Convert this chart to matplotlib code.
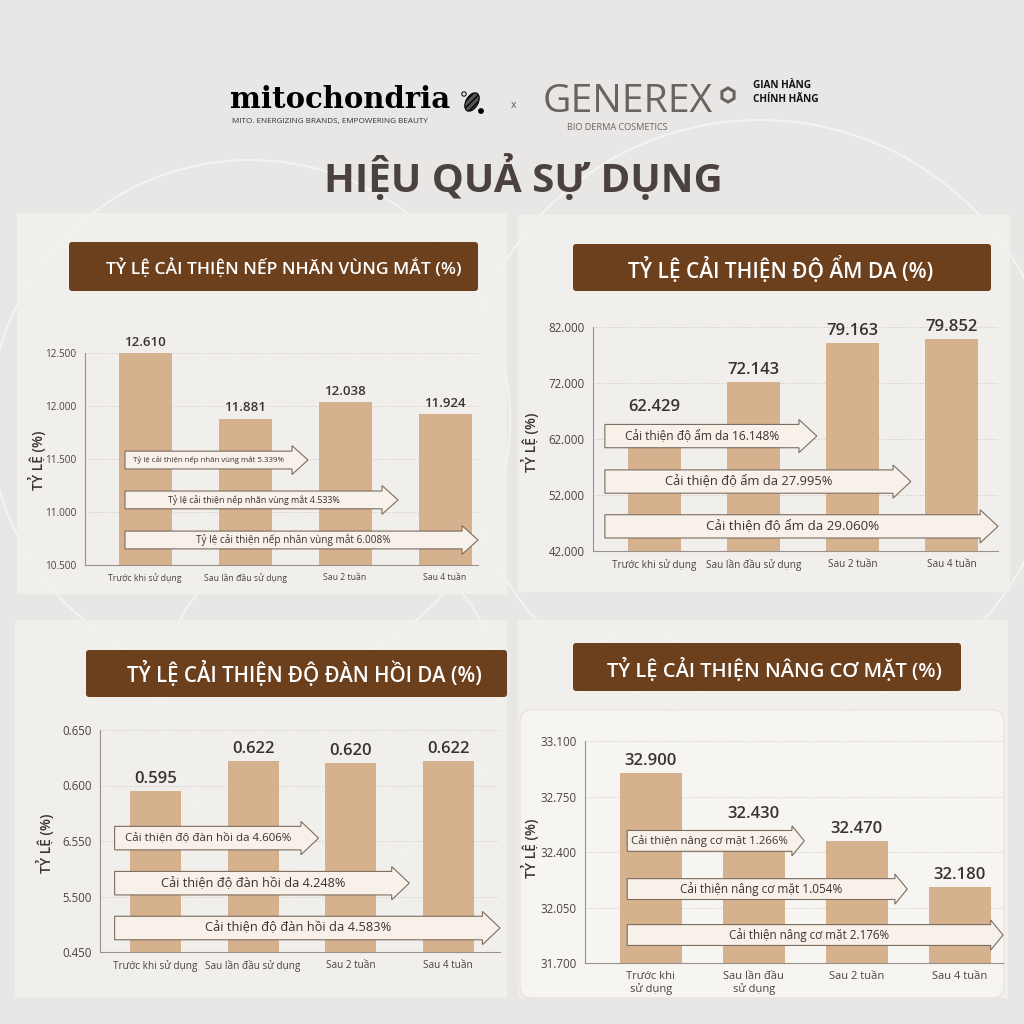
import matplotlib
matplotlib.use("Agg")
import matplotlib.pyplot as plt
import matplotlib.transforms as mtransforms
from matplotlib.patches import FancyBboxPatch, Polygon, Ellipse, Circle, RegularPolygon, Rectangle

plt.rcParams['font.family'] = ['Open Sans', 'DejaVu Sans']

# ---- data ----
categories = ["Trước khi sử dụng", "Sau lần đầu sử dụng", "Sau 2 tuần", "Sau 4 tuần"]
categories_wrapped = ["Trước khi\nsử dụng", "Sau lần đầu\nsử dụng", "Sau 2 tuần", "Sau 4 tuần"]

titles = ["TỶ LỆ CẢI THIỆN NẾP NHĂN VÙNG MẮT (%)",
          "TỶ LỆ CẢI THIỆN ĐỘ ẨM DA (%)",
          "TỶ LỆ CẢI THIỆN ĐỘ ĐÀN HỒI DA (%)",
          "TỶ LỆ CẢI THIỆN NÂNG CƠ MẶT (%)"]

wrinkle = [12.610, 11.881, 12.038, 11.924]
moisture = [62.429, 72.143, 79.163, 79.852]
elastic = [0.595, 0.622, 0.620, 0.622]
lifting = [32.900, 32.430, 32.470, 32.180]

wrinkle_ticks = [10.5, 11.0, 11.5, 12.0, 12.5]
moisture_ticks = [42, 52, 62, 72, 82]
elastic_ticks = [0.45, 0.50, 0.55, 0.60, 0.65]
lifting_ticks = [31.70, 32.05, 32.40, 32.75, 33.10]

wrinkle_ticklabels = ["10.500", "11.000", "11.500", "12.000", "12.500"]
moisture_ticklabels = ["42.000", "52.000", "62.000", "72.000", "82.000"]
elastic_ticklabels = ["0.450", "5.500", "6.550", "0.600", "0.650"]
lifting_ticklabels = ["31.700", "32.050", "32.400", "32.750", "33.100"]

wrinkle_arrows = ["Tỷ lệ cải thiện nếp nhăn vùng mắt 5.339%",
                  "Tỷ lệ cải thiện nếp nhăn vùng mắt 4.533%",
                  "Tỷ lệ cải thiện nếp nhăn vùng mắt 6.008%"]
moisture_arrows = ["Cải thiện độ ẩm da 16.148%",
                   "Cải thiện độ ẩm da 27.995%",
                   "Cải thiện độ ẩm da 29.060%"]
elastic_arrows = ["Cải thiện độ đàn hồi da 4.606%",
                  "Cải thiện độ đàn hồi da 4.248%",
                  "Cải thiện độ đàn hồi da 4.583%"]
lifting_arrows = ["Cải thiện nâng cơ mặt 1.266%",
                  "Cải thiện nâng cơ mặt 1.054%",
                  "Cải thiện nâng cơ mặt 2.176%"]

# ---- colours ----
BG = "#e8e7e5"
PANEL = "#f3f1ee"
BROWN = "#6c3f1d"
BAR = "#d5b18d"
ARROW_FILL = "#f7f1e9"
ARROW_EDGE = "#7d6d5f"
DARK = "#3b3331"
TICK = "#4a4442"

W = 1024
fig = plt.figure(figsize=(10.24, 10.24), dpi=100, facecolor=BG)


def rect(x0, y0, x1, y1):
    return [x0 / W, 1 - y1 / W, (x1 - x0) / W, (y1 - y0) / W]


def fx(x):
    return x / W


def fy(y):
    return 1 - y / W


renderer = fig.canvas.get_renderer()


def fit(t, width_px):
    w = t.get_window_extent(renderer).width
    t.set_fontsize(t.get_fontsize() * width_px / w)


# background layer: one axes over the whole figure, below the charts
bg = fig.add_axes([0, 0, 1, 1], zorder=-1)
bg.set_xlim(0, W)
bg.set_ylim(W, 0)
bg.axis("off")

for cx, cy, r in [(250, 420, 260), (760, 420, 300), (330, 700, 170), (640, 690, 60)]:
    bg.add_patch(Circle((cx, cy), r, fill=False, ec="white", lw=1.5, alpha=0.5, zorder=0))

for x0, y0, x1, y1 in [(17, 213, 507, 594), (518, 215, 1010, 592), (15, 620, 507, 998), (518, 620, 1008, 998)]:
    bg.add_patch(Rectangle((x0, y0), x1 - x0, y1 - y0, fc=PANEL, ec="none", alpha=0.85, zorder=1))
bg.add_patch(FancyBboxPatch((520, 710), 484, 288, boxstyle="round,pad=0,rounding_size=12",
                            fc="#f7f5f2", ec="#e6e1db", lw=0.8, zorder=2))

# ---- header ----
t = fig.text(fx(230), fy(99), "mitochondria", family="DejaVu Serif", weight="bold",
             fontsize=17, color="black", va="center", ha="left")
fit(t, 220)
t = fig.text(fx(330), fy(121), "MITO. ENERGIZING BRANDS, EMPOWERING BEAUTY", fontsize=3.6,
             color="#333", ha="center", va="center")
fit(t, 195)
bg.add_patch(Ellipse((472, 102), 12, 20, angle=30, fc="#555", ec="black", hatch="/////", lw=0.8, zorder=3))
bg.add_patch(Circle((464, 94), 2.2, fc="none", ec="black", lw=0.7, zorder=3))
bg.add_patch(Circle((481, 111), 2.2, fc="black", ec="black", zorder=3))
fig.text(fx(513), fy(106), "x", fontsize=7.5, color="#555", ha="center", va="center")
t = fig.text(fx(543), fy(102), "GENEREX", fontsize=26, color="#6b6361", ha="left", va="center")
fit(t, 170)
bg.add_patch(RegularPolygon((728, 95), 6, radius=7, fill=False, ec="#6b6361", lw=2.2, zorder=3))
fig.text(fx(617), fy(128), "BIO DERMA COSMETICS", fontsize=6.6, color="#6b6361", ha="center", va="center")
fig.text(fx(753), fy(86), "GIAN HÀNG", fontsize=7.2, weight="bold", color="#111", ha="left", va="center")
fig.text(fx(753), fy(100), "CHÍNH HÃNG", fontsize=7.2, weight="bold", color="#111", ha="left", va="center")

t = fig.text(fx(523), fy(177), "HIỆU QUẢ SỰ DỤNG", fontsize=27, weight="bold",
             color="#4b413e", ha="center", va="center")
fit(t, 398)

# ---- panels ----
panels = [
    dict(values=wrinkle, ticks=wrinkle_ticks, ticklabels=wrinkle_ticklabels, arrows=wrinkle_arrows,
         title=titles[0], cats=categories,
         ax=(85, 353, 478, 565), xlim=(-0.6, 3.33), width=0.53,
         bar_box=(69, 242, 478, 291), title_w=358, title_c=(284, 268),
         x0=-0.2, tips=[1.63, 2.53, 3.33], yc=[0.495, 0.307, 0.118], bh=0.042, hh=0.068, hl=0.16,
         arrow_w=[153, 173, 193], val_fs=9.5, tick_fs=7.2, cat_fs=6.3, ylab=(37, 460), ylab_fs=10),
    dict(values=moisture, ticks=moisture_ticks, ticklabels=moisture_ticklabels, arrows=moisture_arrows,
         title=titles[1], cats=categories,
         ax=(593, 327, 998, 551), xlim=(-0.62, 3.47), width=0.53,
         bar_box=(573, 244, 991, 291), title_w=307, title_c=(781, 269),
         x0=-0.5, tips=[1.64, 2.59, 3.47], yc=[0.513, 0.31, 0.11], bh=0.052, hh=0.074, hl=0.18,
         arrow_w=[155, 167, 173], val_fs=12, tick_fs=8.3, cat_fs=7.2, ylab=(530, 442), ylab_fs=10),
    dict(values=elastic, ticks=elastic_ticks, ticklabels=elastic_ticklabels, arrows=elastic_arrows,
         title=titles[2], cats=categories,
         ax=(100, 730, 500, 952), xlim=(-0.57, 3.53), width=0.52,
         bar_box=(86, 650, 507, 697), title_w=357, title_c=(304, 674),
         x0=-0.42, tips=[1.67, 2.6, 3.53], yc=[0.513, 0.31, 0.108], bh=0.053, hh=0.075, hl=0.18,
         arrow_w=[166, 184, 187], val_fs=12, tick_fs=8.3, cat_fs=7.2, ylab=(45, 843), ylab_fs=10),
    dict(values=lifting, ticks=lifting_ticks, ticklabels=lifting_ticklabels, arrows=lifting_arrows,
         title=titles[3], cats=categories_wrapped,
         ax=(585, 741, 1003, 963), xlim=(-0.64, 3.42), width=0.6,
         bar_box=(573, 643, 961, 691), title_w=337, title_c=(774, 670),
         x0=-0.23, tips=[1.49, 2.49, 3.42], yc=[0.55, 0.333, 0.126], bh=0.047, hh=0.068, hl=0.12,
         arrow_w=[157, 163, 161], val_fs=12, tick_fs=8.3, cat_fs=8.0, ylab=(530, 848), ylab_fs=10),
]

for p in panels:
    # title bar
    x0, y0, x1, y1 = p["bar_box"]
    bg.add_patch(FancyBboxPatch((x0, y0), x1 - x0, y1 - y0, boxstyle="round,pad=0,rounding_size=3",
                                fc=BROWN, ec="none", zorder=4))
    t = fig.text(fx(p["title_c"][0]), fy(p["title_c"][1]), p["title"], color="white",
                 fontsize=14, weight="semibold", ha="center", va="center")
    fit(t, p["title_w"])

    ax = fig.add_axes(rect(*p["ax"]), zorder=2)
    ax.set_facecolor("none")
    xs = list(range(len(p["values"])))
    lo, hi = p["ticks"][0], p["ticks"][-1]
    ax.bar(xs, p["values"], width=p["width"], color=BAR, zorder=2)
    ax.set_xlim(*p["xlim"])
    ax.set_ylim(lo, hi)
    ax.set_yticks(p["ticks"])
    ax.set_yticklabels(p["ticklabels"], fontsize=p["tick_fs"], color=TICK)
    ax.set_xticks(xs)
    ax.set_xticklabels(p["cats"], fontsize=p["cat_fs"], color=TICK, linespacing=1.1)
    ax.tick_params(length=0, pad=6)
    ax.grid(axis="y", ls=(0, (1, 2)), color="#c9c2ba", lw=0.7, zorder=0)
    for s in ["top", "right"]:
        ax.spines[s].set_visible(False)
    for s in ["left", "bottom"]:
        ax.spines[s].set_color("#9a918b")
        ax.spines[s].set_linewidth(0.8)

    trans = mtransforms.blended_transform_factory(ax.transData, ax.transAxes)
    a0, hl, bh, hh = p["x0"], p["hl"], p["bh"], p["hh"]
    for label, tip, yc, aw in zip(p["arrows"], p["tips"], p["yc"], p["arrow_w"]):
        pts = [(a0, yc - bh), (tip - hl, yc - bh), (tip - hl, yc - hh), (tip, yc),
               (tip - hl, yc + hh), (tip - hl, yc + bh), (a0, yc + bh)]
        ax.add_patch(Polygon(pts, closed=True, transform=trans, fc=ARROW_FILL, ec=ARROW_EDGE,
                             lw=0.8, zorder=3, clip_on=False))
        t = ax.text((a0 + tip - hl) / 2, yc, label, transform=trans, ha="center", va="center",
                    fontsize=8, color=DARK, zorder=4)
        fit(t, aw)

    # value labels: above the bar, lifted clear of any arrow that crosses the bar
    for x, v in zip(xs, p["values"]):
        y_lab = min(v, hi)
        for tip, yc in zip(p["tips"], p["yc"]):
            if x - p["width"] / 2 < tip:
                y_arrow = lo + (yc + hh) * (hi - lo)
                y_lab = max(y_lab, y_arrow)
        ax.annotate(f"{v:.3f}", (x, y_lab), xytext=(0, 3), textcoords="offset points",
                    ha="center", va="bottom", fontsize=p["val_fs"], weight="semibold",
                    color=DARK, annotation_clip=False, zorder=4)

    fig.text(fx(p["ylab"][0]), fy(p["ylab"][1]), "TỶ LỆ (%)", rotation=90, fontsize=p["ylab_fs"],
             weight="semibold", color=DARK, ha="center", va="center")

fig.savefig("out.png", dpi=100, facecolor=BG)
